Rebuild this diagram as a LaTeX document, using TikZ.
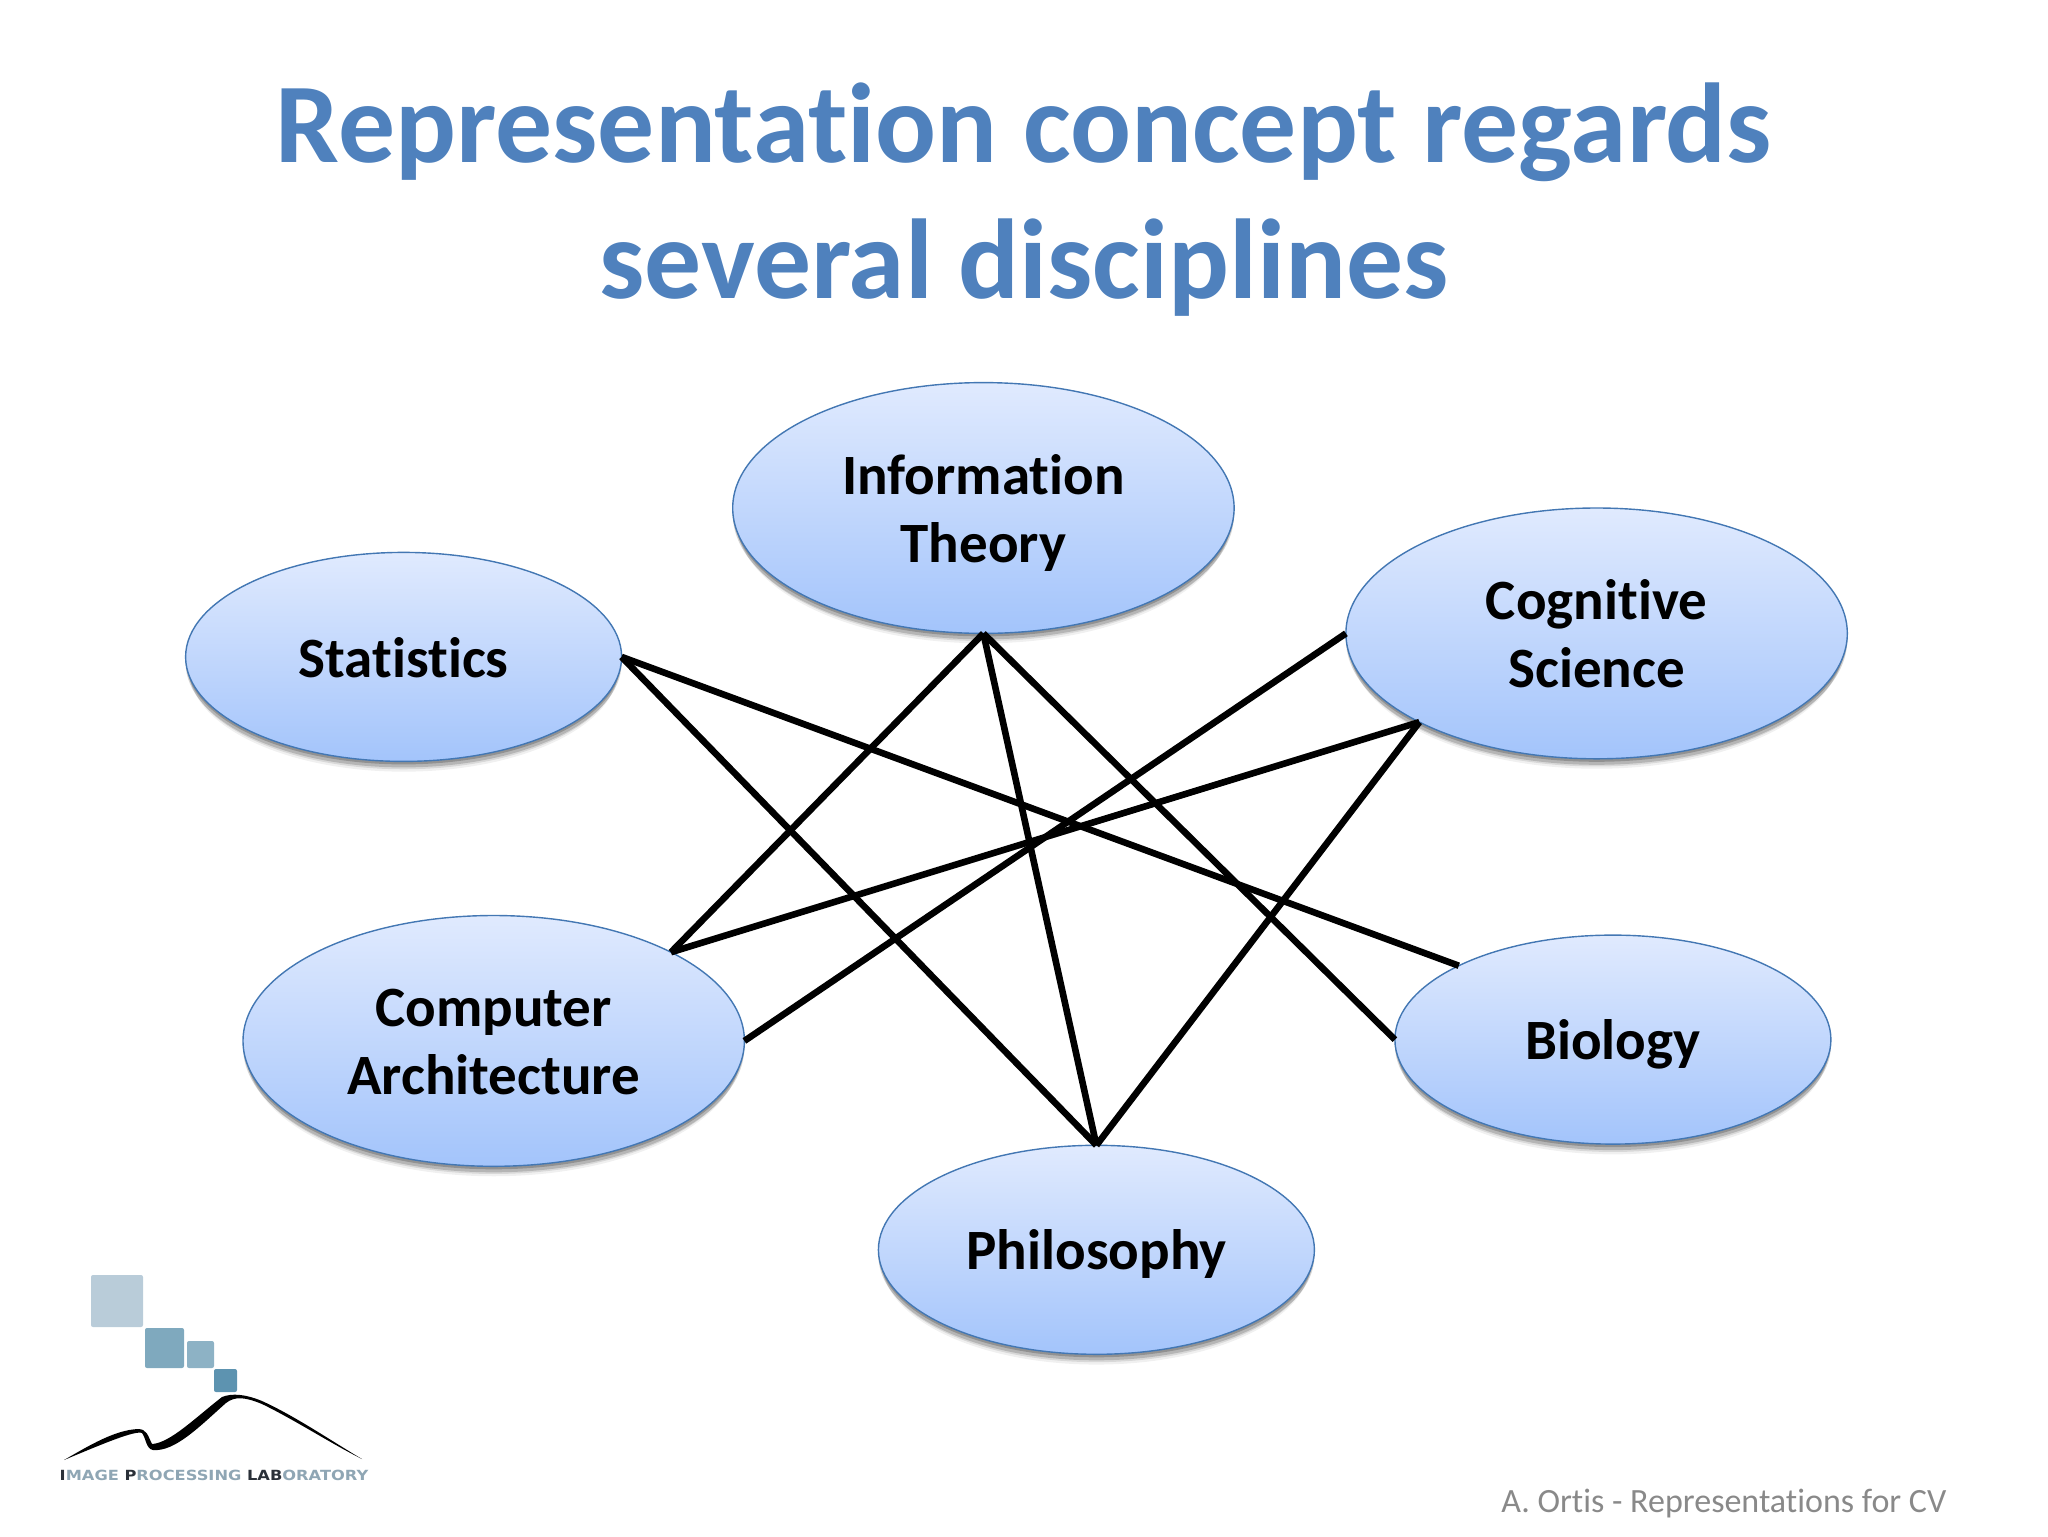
\documentclass[tikz,border=0pt]{standalone}
\usepackage{fontspec}
\setmainfont[Ligatures=NoCommon]{Carlito}
\newfontfamily\logofont{DejaVu Sans}
\usetikzlibrary{shapes.geometric,shadows}

\definecolor{titleblue}{HTML}{4F81BD}
\definecolor{ovalline}{HTML}{4377B3}
\definecolor{ovaltop}{HTML}{E0EAFE}
\definecolor{ovalbottom}{HTML}{A3C4FB}
\definecolor{footgray}{HTML}{898989}
\definecolor{logodark}{HTML}{2A3038}
\definecolor{logolight}{HTML}{8FA6B4}

\tikzset{
	oval/.style={shape=ellipse,draw=ovalline,line width=0.7pt,inner sep=0pt,outer sep=0pt,
		top color=ovaltop,bottom color=ovalbottom,font=\fontsize{28.5}{34}\selectfont\bfseries,align=center,
		drop shadow={shadow xshift=0pt,shadow yshift=-6pt,shadow scale=0.985,fill=black,opacity=0.06},
		drop shadow={shadow xshift=0pt,shadow yshift=-4.5pt,shadow scale=0.99,fill=black,opacity=0.1},
		drop shadow={shadow xshift=0pt,shadow yshift=-3pt,fill=black,opacity=0.16},
		drop shadow={shadow xshift=0pt,shadow yshift=-1.5pt,fill=black,opacity=0.2}},
	bigoval/.style={oval,minimum width=250.7pt,minimum height=125.4pt},
	smalloval/.style={oval,minimum width=218pt,minimum height=104.5pt},
	link/.style={line width=3.3pt,black},
	logosq/.style={rounded corners=1pt}
}

\begin{document}
\begin{tikzpicture}[x=0.5pt,y=-0.5pt]
	\useasboundingbox (0,0) rectangle (2048,1536);

	\node[text=titleblue,align=center,font=\fontsize{56.8}{68}\selectfont\bfseries] (title) at (1024,200)
		{Representation concept regards\\several disciplines};

	\node[bigoval,text height=59pt]   (info) at (983.4,508)     {Information\\Theory};
	\node[smalloval,text height=21pt] (stat) at (403.6,656.9)   {Statistics};
	\node[bigoval]                    (cogn) at (1596.6,633.4)  {Cognitive\\Science};
	\node[bigoval,text height=54pt]   (arch) at (493.7,1040.9)  {Computer\\Architecture};
	\node[smalloval,text height=25pt] (biol) at (1612.9,1039.6) {Biology};
	\node[smalloval,text height=24pt] (phil) at (1096.4,1249.8) {Philosophy};

	\path[link] (stat.east) edge (biol.north west);
	\path[link] (stat.east) edge (phil.north);
	\path[link] (info.south) edge (arch.north east);
	\path[link] (info.south) edge (phil.north);
	\path[link] (info.south) edge (biol.west);
	\path[link] (cogn.west) edge (arch.east);
	\path[link] (cogn.south west) edge (arch.north east);
	\path[link] (cogn.south west) edge (phil.north);

	% logo
	\fill[logosq,fill={rgb,255:red,185;green,204;blue,217}] (91,1275) rectangle (143,1327);
	\fill[logosq,fill={rgb,255:red,127;green,169;blue,190}] (145,1328) rectangle (184,1368);
	\fill[logosq,fill={rgb,255:red,141;green,178;blue,197}] (187,1341) rectangle (214,1368);
	\fill[logosq,fill={rgb,255:red,93;green,147;blue,176}] (214,1369) rectangle (237,1392);
	\fill[black] (64,1460) .. controls (90,1445) and (115,1430) .. (138,1429)
		.. controls (147,1429) and (148,1436) .. (152,1444)
		.. controls (170,1443) and (195,1418) .. (222,1397)
		.. controls (232,1393) and (245,1394) .. (262,1401)
		.. controls (295,1416) and (330,1440) .. (362,1459)
		.. controls (330,1443) and (295,1420) .. (262,1404)
		.. controls (245,1397) and (235,1396) .. (226,1403)
		.. controls (200,1426) and (175,1452) .. (153,1450)
		.. controls (146,1449) and (146,1438) .. (142,1433)
		.. controls (135,1430) and (100,1445) .. cycle;
	\node[inner sep=0pt,xscale=1.16,font=\logofont\bfseries\fontsize{7}{8}\selectfont] (logotext) at (214,1475)
		{\textcolor{logodark}{I}\textcolor{logolight}{MAGE} \textcolor{logodark}{P}\textcolor{logolight}{ROCESSING} \textcolor{logodark}{LAB}\textcolor{logolight}{ORATORY}};

	\node[text=footgray,anchor=east,font=\fontsize{17}{20}\selectfont] (foot) at (1953.5,1504)
		{A. Ortis - Representations for CV};
\end{tikzpicture}
\end{document}
